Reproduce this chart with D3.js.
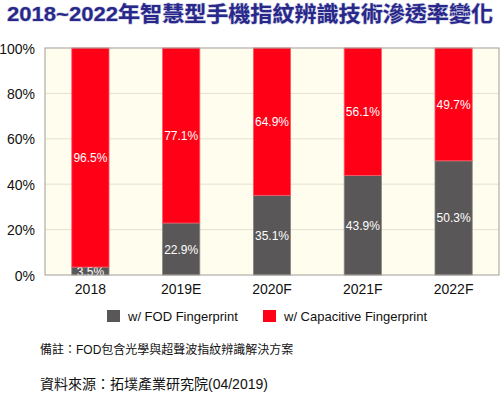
<!DOCTYPE html>
<html lang="zh-Hant">
<head>
<meta charset="UTF-8">
<title>智慧型手機指紋辨識技術滲透率</title>
<script src="https://cdnjs.cloudflare.com/ajax/libs/d3/7.8.5/d3.min.js"></script>
<style>
    body { margin: 0; background: #fff; }
    svg { display: block; font-family: Arial, "Liberation Sans", "Noto Sans CJK TC", sans-serif; }
    .tick text { font-size: 14px; fill: #111; }
    .seg-label { font-size: 12px; fill: #fff; text-anchor: middle; }
</style>
</head>
<body>
<svg id="chart" width="500" height="394"></svg>
<script>
    // data
    const years = ['2018', '2019E', '2020F', '2021F', '2022F'];
    const fodShare = [3.5, 22.9, 35.1, 43.9, 50.3];
    const capShare = [96.5, 77.1, 64.9, 56.1, 49.7];
    const seriesNames = ['w/ FOD Fingerprint', 'w/ Capacitive Fingerprint'];
    const yTicks = [0, 20, 40, 60, 80, 100];

    const colors = ['#595757', '#ff0016'];
    const svg = d3.select('#chart');

    const margin = { left: 45, right: 1, top: 48, bottom: 119 };
    const width = +svg.attr('width');
    const height = +svg.attr('height');
    const plotW = width - margin.left - margin.right;
    const plotH = height - margin.top - margin.bottom;

    // title
    svg.append('text')
        .attr('x', 7).attr('y', 21)
        .attr('textLength', 486)
        .attr('lengthAdjust', 'spacingAndGlyphs')
        .style('font-size', '21px')
        .style('font-weight', 'bold')
        .style('fill', '#28288a')
        .style('paint-order', 'stroke')
        .style('stroke', 'rgba(90,90,170,0.35)')
        .style('stroke-width', '1.2px')
        .text('2018~2022年智慧型手機指紋辨識技術滲透率變化');

    const g = svg.append('g').attr('transform', `translate(${margin.left},${margin.top})`);

    const x = d3.scaleBand().domain(years).range([0, plotW]).paddingInner(0.59).paddingOuter(0.295);
    const y = d3.scaleLinear().domain([0, 100]).range([plotH, 0]);

    g.append('rect')
        .attr('width', plotW).attr('height', plotH)
        .attr('fill', '#fffdee');

    // grid
    g.selectAll('.grid').data(yTicks.slice(1, -1)).join('line')
        .attr('x1', 0).attr('x2', plotW)
        .attr('y1', d => y(d)).attr('y2', d => y(d))
        .attr('stroke', '#e4e1cf').attr('stroke-width', 1);

    // stacked data
    const rows = years.map((yr, i) => ({ year: yr, fod: fodShare[i], cap: capShare[i] }));
    const stack = d3.stack().keys(['fod', 'cap'])(rows);

    stack.forEach((layer, li) => {
        g.selectAll(`.bar-${li}`).data(layer).join('rect')
            .attr('x', d => x(d.data.year))
            .attr('width', x.bandwidth())
            .attr('y', d => y(d[1]))
            .attr('height', d => y(d[0]) - y(d[1]))
            .attr('fill', colors[li])
            .attr('stroke', li === 0 ? '#8a8886' : '#ff5a66')
            .attr('stroke-width', 0.8);

        g.selectAll(`.lab-${li}`).data(layer).join('text')
            .attr('class', 'seg-label')
            .attr('x', d => x(d.data.year) + x.bandwidth() / 2)
            .attr('y', d => y((d[0] + d[1]) / 2) + 4.5)
            .text(d => (d[1] - d[0]).toFixed(1) + '%');
    });

    // border
    g.append('rect')
        .attr('width', plotW).attr('height', plotH)
        .attr('fill', 'none').attr('stroke', '#a09e98').attr('stroke-width', 1);

    // axes
    const yAxis = g.append('g')
        .call(d3.axisLeft(y).tickValues(yTicks).tickFormat(d => d + '%').tickSize(0).tickPadding(10));
    yAxis.select('.domain').remove();
    yAxis.selectAll('.tick text').attr('dy', '0.36em');

    const xAxis = g.append('g').attr('transform', `translate(0,${plotH})`)
        .call(d3.axisBottom(x).tickSize(0).tickPadding(9));
    xAxis.select('.domain').remove();

    // legend
    const legend = svg.append('g').attr('transform', 'translate(107,310)');
    const legendX = [0, 156];
    seriesNames.forEach((name, i) => {
        const item = legend.append('g').attr('transform', `translate(${legendX[i]},0)`);
        item.append('rect').attr('width', 13).attr('height', 12).attr('fill', colors[i]);
        item.append('text').attr('x', 21).attr('y', 10.5)
            .style('font-size', '13px').style('fill', '#111')
            .text(name);
    });

    // notes
    svg.append('text').attr('x', 40).attr('y', 354)
        .style('font-size', '12px').style('fill', '#111')
        .text('備註：FOD包含光學與超聲波指紋辨識解決方案');
    svg.append('text').attr('x', 40).attr('y', 389)
        .style('font-size', '14px').style('fill', '#111')
        .text('資料來源：拓墣產業研究院(04/2019)');
</script>
</body>
</html>
